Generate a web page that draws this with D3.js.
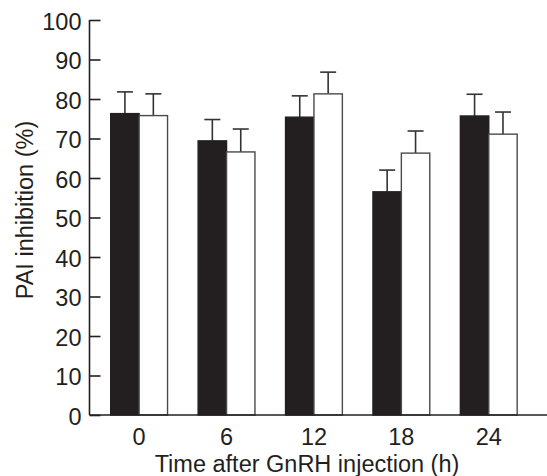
<!DOCTYPE html>
<html>
<head>
<meta charset="utf-8">
<script src="https://cdn.jsdelivr.net/npm/d3@7"></script>
<style>
  body { margin: 0; background: #fff; }
  svg { display: block; font-family: "Liberation Sans", Arial, sans-serif; }
</style>
</head>
<body>
<div id="chart"></div>
<script>
// values
var times = ["0", "6", "12", "18", "24"];
var blackMeans = [76.3, 69.4, 75.4, 56.5, 75.7];
var blackErrs = [5.5, 5.4, 5.4, 5.5, 5.5];
var whiteMeans = [75.8, 66.6, 81.3, 66.3, 71.1];
var whiteErrs = [5.5, 5.8, 5.5, 5.6, 5.6];
var yTicks = [0, 10, 20, 30, 40, 50, 60, 70, 80, 90, 100];

var width = 547, height = 476;
var axisX = 89.5, plotBottom = 415, plotTop = 20;
var ink = "#231f20";
var fontSize = 23.5;

var svg = d3.select("#chart").append("svg")
    .attr("width", width)
    .attr("height", height);

var xScale = d3.scaleBand()
    .domain(times)
    .range([84.5, 543.4])
    .paddingInner(0.35)
    .paddingOuter(0.3);

var sub = d3.scaleBand()
    .domain(["black", "white"])
    .range([0, xScale.bandwidth()]);

var yScale = d3.scaleLinear()
    .domain([0, 100])
    .range([plotBottom, plotTop]);

var flat = [];
times.forEach(function(t, i) {
    flat.push({t: t, key: "black", mean: blackMeans[i], err: blackErrs[i]});
    flat.push({t: t, key: "white", mean: whiteMeans[i], err: whiteErrs[i]});
});

// error bars (upward only)
var eb = svg.append("g").attr("stroke", "#333").attr("stroke-width", 1.6).attr("fill", "none");
flat.forEach(function(d) {
    var cx = xScale(d.t) + sub(d.key) + sub.bandwidth() / 2;
    eb.append("line")
        .attr("x1", cx).attr("x2", cx)
        .attr("y1", yScale(d.mean)).attr("y2", yScale(d.mean + d.err));
    eb.append("line")
        .attr("x1", cx - 8).attr("x2", cx + 8)
        .attr("y1", yScale(d.mean + d.err)).attr("y2", yScale(d.mean + d.err));
});

// bars
svg.append("g").selectAll("rect")
    .data(flat)
    .enter().append("rect")
    .attr("x", function(d) { return xScale(d.t) + sub(d.key); })
    .attr("y", function(d) { return yScale(d.mean); })
    .attr("width", sub.bandwidth())
    .attr("height", function(d) { return plotBottom - yScale(d.mean); })
    .attr("fill", function(d) { return d.key == "black" ? ink : "#fff"; })
    .attr("stroke", function(d) { return d.key == "black" ? ink : "#4a4a4a"; })
    .attr("stroke-width", 1.4);

// y axis
var yAxis = d3.axisRight(yScale).tickValues(yTicks).tickSize(11).tickFormat(d3.format("d"));
var gy = svg.append("g")
    .attr("transform", "translate(" + axisX + ",0)")
    .call(yAxis);
gy.select(".domain").remove();
gy.selectAll(".tick line").attr("stroke", ink).attr("stroke-width", 1.6);
gy.selectAll(".tick text")
    .attr("x", -8)
    .attr("dy", "0.4em")
    .attr("text-anchor", "end")
    .attr("fill", ink)
    .attr("font-size", fontSize)
    .attr("font-family", "Liberation Sans, Arial, sans-serif");
svg.append("line")
    .attr("x1", axisX).attr("x2", axisX)
    .attr("y1", plotTop).attr("y2", plotBottom)
    .attr("stroke", ink).attr("stroke-width", 1.6);

// x axis
var xAxis = d3.axisBottom(xScale).tickSize(0).tickPadding(0);
var gx = svg.append("g")
    .attr("transform", "translate(0," + plotBottom + ")")
    .call(xAxis);
gx.select(".domain").remove();
gx.selectAll(".tick text")
    .attr("y", 30)
    .attr("dy", 0)
    .attr("fill", ink)
    .attr("font-size", fontSize)
    .attr("font-family", "Liberation Sans, Arial, sans-serif");
svg.append("line")
    .attr("x1", axisX).attr("x2", width)
    .attr("y1", plotBottom).attr("y2", plotBottom)
    .attr("stroke", ink).attr("stroke-width", 1.6);

// titles
svg.append("text")
    .attr("x", 307).attr("y", 472)
    .attr("text-anchor", "middle")
    .attr("fill", ink)
    .attr("font-size", fontSize)
    .text("Time after GnRH injection (h)");

svg.append("text")
    .attr("transform", "translate(33,210) rotate(-90)")
    .attr("text-anchor", "middle")
    .attr("fill", ink)
    .attr("font-size", fontSize)
    .text("PAI inhibition (%)");
</script>
</body>
</html>
